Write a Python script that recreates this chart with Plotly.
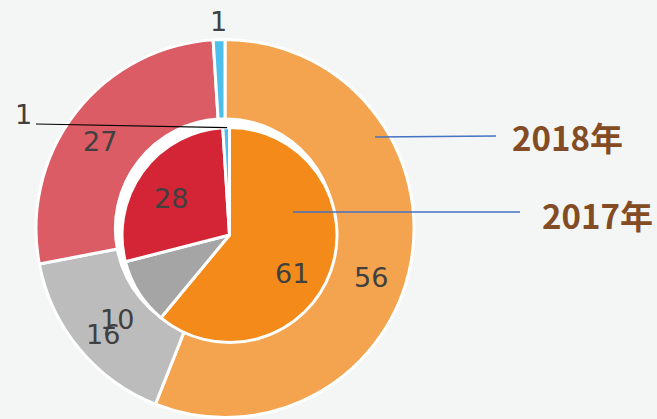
import math
import plotly.graph_objects as go

# 数据（外环 2018 年，内饼 2017 年）
categories = ['A', 'B', 'C', 'D']
vals_2018 = [56, 16, 27, 1]
vals_2017 = [61, 10, 28, 1]
colors_2018 = ['#F4A44F', '#BBBCBB', '#DB5C65', '#4DBFEA']
colors_2017 = ['#F48A1A', '#A5A5A5', '#D42536', '#4DBFEA']

W, H = 657, 419
BG = '#F3F6F5'
TXT = '#404040'
BROWN = '#844C24'

# 圆心与半径（像素）
outer_c, outer_r, outer_hole = (225, 228.5), 189, 0.58
inner_c, inner_r = (229.5, 235), 107.5


def px(x, y):
    return x / W, 1 - y / H


def domain(c, r):
    x0, y0 = px(c[0] - r, c[1] + r)
    x1, y1 = px(c[0] + r, c[1] - r)
    return dict(x=[x0, x1], y=[y0, y1])


def mid_angles(vals):
    tot = sum(vals)
    out, acc = [], 0
    for v in vals:
        out.append((acc + v / 2) / tot * 360)
        acc += v
    return out


def polar(c, r, ang):
    a = math.radians(ang)
    return c[0] + r * math.sin(a), c[1] - r * math.cos(a)


fig = go.Figure()
fig.add_trace(go.Pie(
    labels=categories, values=vals_2018, name='2018年',
    hole=outer_hole, sort=False, direction='clockwise', rotation=0,
    marker=dict(colors=colors_2018, line=dict(color='white', width=3)),
    textinfo='none', domain=domain(outer_c, outer_r), showlegend=False,
))
fig.add_trace(go.Pie(
    labels=categories, values=vals_2017, name='2017年',
    sort=False, direction='clockwise', rotation=0,
    marker=dict(colors=colors_2017, line=dict(color='white', width=3)),
    textinfo='none', domain=domain(inner_c, inner_r), showlegend=False,
))

annotations = []
shapes = []

# 内外圈之间的白色间隙
hr = outer_r * outer_hole + 3
cx0, cy0 = px(outer_c[0] - hr, outer_c[1] + hr)
cx1, cy1 = px(outer_c[0] + hr, outer_c[1] - hr)
shapes.append(dict(type='circle', xref='paper', yref='paper', layer='below',
                   x0=cx0, y0=cy0, x1=cx1, y1=cy1,
                   fillcolor='white', line=dict(width=0)))


def label(x, y, text, size=27, color=TXT, family=None):
    xp, yp = px(x, y)
    f = dict(size=size, color=color)
    if family:
        f['family'] = family
    annotations.append(dict(x=xp, y=yp, text=text, showarrow=False,
                            xanchor='center', yanchor='middle', font=f))


# 数据标签（沿扇区中线，Excel 的位置略有偏移）
nudge_2018 = [(-5, 20), (-3, 8), (-3, 7)]
nudge_2017 = [(-4, 14), (-53, 46), (-1, 5)]
for vals, c, r, nudges in [(vals_2018, outer_c, 154, nudge_2018),
                           (vals_2017, inner_c, 71, nudge_2017)]:
    angs = mid_angles(vals)
    for v, a, (dx, dy) in zip(vals[:3], angs[:3], nudges):
        x, y = polar(c, r, a)
        label(x + dx, y + dy, str(v))

# 外环小扇区 "1"
x, y = polar(outer_c, 207, mid_angles(vals_2018)[3])
label(x, y, str(vals_2018[3]))

# 内饼小扇区 "1"，带引导线
ex, ey = polar(inner_c, inner_r, mid_angles(vals_2017)[3])
x0, y0 = px(36, 124)
x1, y1 = px(ex + 1, ey)
shapes.append(dict(type='line', xref='paper', yref='paper', x0=x0, y0=y0,
                   x1=x1, y1=y1, line=dict(color='black', width=1.2)))
label(23, 114, str(vals_2017[3]))

# 系列名称及引导线
for name, p0, p1, tx in [('2018年', (375, 137), (496, 136), (567, 137)),
                         ('2017年', (293, 212), (520, 212), (597, 215))]:
    a0, b0 = px(*p0)
    a1, b1 = px(*p1)
    shapes.append(dict(type='line', xref='paper', yref='paper', x0=a0, y0=b0,
                       x1=a1, y1=b1, line=dict(color='#4472C4', width=1.3)))
    label(tx[0], tx[1], '<b>%s</b>' % name, size=33, color=BROWN,
          family='Noto Sans CJK JP')

fig.update_layout(
    width=W, height=H,
    margin=dict(l=0, r=0, t=0, b=0),
    paper_bgcolor=BG, plot_bgcolor=BG,
    font=dict(family='DejaVu Sans', color=TXT),
    annotations=annotations, shapes=shapes,
)

# 去掉页面默认边距和工具栏
fig.write_html("out.html", config={'displayModeBar': False}, post_script=(
    "document.body.style.margin='0';"
    "document.body.style.background='%s';" % BG))
